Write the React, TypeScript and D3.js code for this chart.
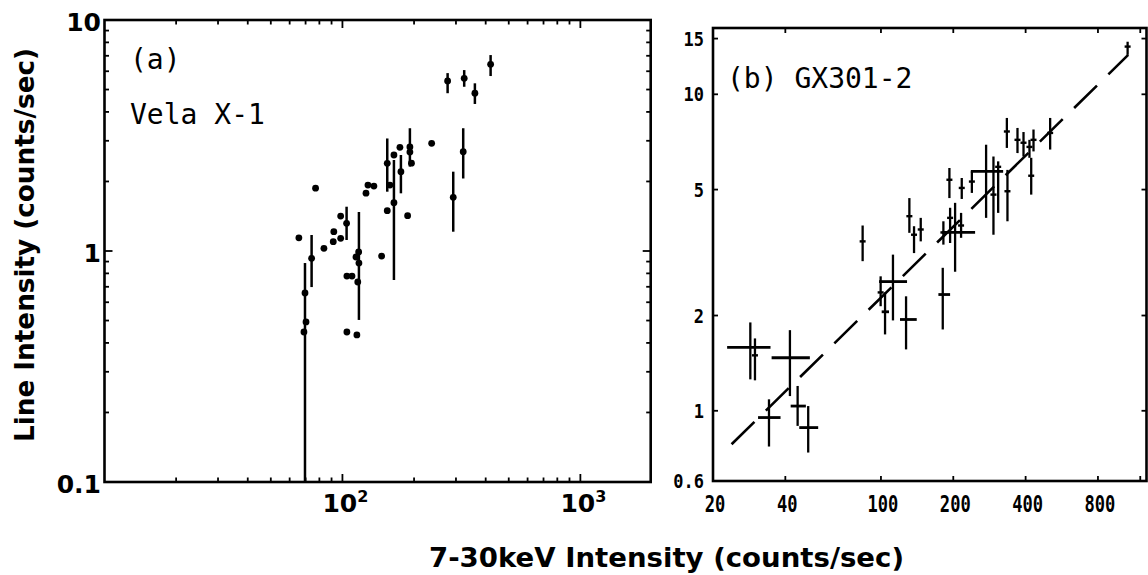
import React from 'react';
import * as d3 from 'd3';

// ---------- Panel (a): Vela X-1 ----------
const velaX = [65.6, 69.6, 70.3, 68.9, 74.2, 77.1, 83.6, 91.5, 92, 98.3, 98.3, 104.1, 117.3, 114, 117, 104.4, 109.7, 116, 104.4, 115, 125.6, 128, 135.6, 146.1, 154.3, 154.3, 164.6, 158.4, 164.6, 174.4, 176.1, 187.9, 192.1, 192.1, 195, 237.1, 292.2, 321.8, 276.7, 324.9, 360.3, 419.5];
const velaY = [1.14, 0.658, 0.493, 0.446, 0.93, 1.87, 1.027, 1.097, 1.212, 1.135, 1.417, 1.318, 0.887, 0.942, 0.99, 0.779, 0.779, 0.734, 0.446, 0.433, 1.78, 1.93, 1.91, 0.951, 1.495, 2.397, 1.619, 1.93, 2.604, 2.81, 2.205, 1.422, 2.82, 2.68, 2.4, 2.926, 1.708, 2.69, 5.45, 5.59, 4.82, 6.43];
// NaN = no error bar drawn
const velaYLo = [NaN, 0.1, NaN, NaN, 0.698, NaN, NaN, NaN, NaN, NaN, NaN, 1.116, 0.503, NaN, NaN, NaN, NaN, NaN, NaN, NaN, NaN, NaN, NaN, NaN, NaN, 1.806, 0.749, NaN, NaN, NaN, 1.777, NaN, 2.32, NaN, NaN, NaN, 1.212, 2.06, 4.82, 5.14, 4.33, 5.72];
const velaYHi = [NaN, 0.887, NaN, NaN, 1.173, NaN, NaN, NaN, NaN, NaN, NaN, 1.555, 1.475, NaN, NaN, NaN, NaN, NaN, NaN, NaN, NaN, NaN, NaN, NaN, NaN, 3.07, 2.477, NaN, NaN, NaN, 2.604, NaN, 3.4, NaN, NaN, NaN, 2.205, 3.4, 5.89, 6.07, 5.32, 7.05];

const aYLabels = ['0.1', '1', '10'];
const aYLabelVals = [0.1, 1, 10];
const aXLabelVals = [100, 1000];
const aXLabelExp = ['2', '3'];

// ---------- Panel (b): GX301-2 ----------
const gxX = [28.6, 29.9, 41.8, 45.0, 49.8, 34.2, 83.9, 104, 112.2, 99.7, 127.2, 180.8, 131.3, 137.3, 146.4, 203.5, 181.9, 194, 215.5, 192.7, 216.9, 239, 273.9, 293.9, 307.5, 336.1, 334.2, 370, 392, 415, 422, 431.4, 506, 1063];
const gxY = [1.586, 1.497, 1.471, 1.035, 0.885, 0.952, 3.43, 2.055, 2.56, 2.366, 1.943, 2.33, 4.12, 3.6, 3.74, 3.66, 3.66, 4.07, 3.85, 5.37, 5.06, 5.3, 5.71, 4.82, 5.9, 4.94, 7.63, 7.18, 7.03, 6.82, 5.53, 7.18, 7.55, 14.15];
const gxXLo = [22.9, NaN, 35.07, 42.1, 45.7, 30.8, NaN, 100.7, 98.2, NaN, 120, 173.4, NaN, NaN, NaN, 179.1, NaN, NaN, NaN, NaN, NaN, NaN, 236.6, NaN, NaN, NaN, NaN, NaN, NaN, NaN, NaN, NaN, NaN, NaN];
const gxXHi = [34.7, NaN, 50.6, 48.7, 54.8, 38.2, NaN, 108, 128.4, NaN, 140.9, 194, NaN, NaN, NaN, 246.5, NaN, NaN, NaN, NaN, NaN, NaN, 322.5, NaN, NaN, NaN, NaN, NaN, NaN, NaN, NaN, NaN, NaN, NaN];
const gxYLo = [1.257, 1.248, 1.113, 0.896, 0.738, 0.771, 2.97, 1.743, 1.93, 2.14, 1.563, 1.807, 3.65, 3.15, 3.43, 2.75, 3.35, 3.39, 3.52, 4.7, 4.67, 4.88, 4.07, 3.6, 4.22, 3.97, 6.77, 6.52, 6.36, 6.3, 4.82, 6.6, 6.69, 13.33];
const gxYHi = [1.902, 1.693, 1.798, 1.198, 1.035, 1.087, 3.85, 2.366, 3.115, 2.66, 2.3, 2.83, 4.7, 3.83, 4.07, 4.54, 3.97, 4.38, 4.22, 5.85, 5.44, 5.71, 6.93, 6.36, 6.14, 5.77, 8.42, 7.83, 7.6, 7.18, 6.3, 7.74, 8.42, 14.66];

// fitted power-law (dashed line) end points
const fitX = [23.9, 1069];
const fitY = [0.784, 13.32];

const bXTickVals = [40, 100, 200, 400, 800, 1200];
const bXLabels = ['20', '40', '100', '200', '400', '800'];
const bXLabelVals = [20, 40, 100, 200, 400, 800];
const bYTickVals = [1, 2, 5, 10, 15];
const bYLabels = ['0.6', '1', '2', '5', '10', '15'];
const bYLabelVals = [0.6, 1, 2, 5, 10, 15];

const INK = '#000';
const SANS = '"DejaVu Sans", Verdana, sans-serif';
const MONO = '"DejaVu Sans Mono", "Liberation Mono", monospace';

export default function App() {
  // panel (a) scales
  const ax = d3.scaleLog().domain([10, 2000]).range([104.5, 652]);
  const ay = d3.scaleLog().domain([0.1, 10]).range([482, 20]);
  // panel (b) scales
  const bx = d3.scaleLog().domain([20, 1280]).range([713, 1147]);
  const by = d3.scaleLog().domain([0.6, 16.2]).range([481, 28]);

  const [aL, aR] = [ax(10), 650.7];
  const [aT, aB] = [ay(10), ay(0.1)];
  const [bL, bR] = [bx(20), 1146.5];
  const [bT, bB] = [by(16.2), by(0.6)];

  // minor/major log ticks for panel (a)
  const aXT: { v: number; major: boolean }[] = [];
  [10, 100, 1000].forEach((k) => {
    for (let d = 1; d <= 9; d++) {
      const v = d * k;
      if (v > 10 && v < 2000) aXT.push({ v, major: d === 1 });
    }
  });
  const aYT: { v: number; major: boolean }[] = [];
  [0.1, 1].forEach((k) => {
    for (let d = 1; d <= 9; d++) {
      const v = d * k;
      if (v > 0.1) aYT.push({ v, major: d === 1 });
    }
  });

  const fitLine = d3
    .line<number>()
    .x((_, i) => bx(fitX[i]))
    .y((_, i) => by(fitY[i]));

  return (
    <svg
      width={1148}
      height={575}
      style={{ position: 'absolute', left: 0, top: 0, background: '#fff' }}
    >
      <rect x={0} y={0} width={1148} height={575} fill="#fff" />

      {/* ===== Panel (a) ===== */}
      <rect x={aL} y={aT} width={aR - aL} height={aB - aT} fill="none" stroke={INK} strokeWidth={2.6} />
      {aXT.map((t, i) => {
        const x = ax(t.v);
        const len = t.major ? 8 : 4.5;
        return (
          <g key={'axt' + i} stroke={INK} strokeWidth={1.8}>
            <line x1={x} x2={x} y1={aB} y2={aB - len} />
            <line x1={x} x2={x} y1={aT} y2={aT + len} />
          </g>
        );
      })}
      {aYT.map((t, i) => {
        const y = ay(t.v);
        const len = t.major ? 8 : 4.5;
        return (
          <g key={'ayt' + i} stroke={INK} strokeWidth={1.8}>
            <line x1={aL} x2={aL + len} y1={y} y2={y} />
            <line x1={aR} x2={aR - len} y1={y} y2={y} />
          </g>
        );
      })}
      {aYLabels.map((s, i) => (
        <text
          key={'ayl' + i}
          x={101}
          y={ay(aYLabelVals[i]) + 11}
          textAnchor="end"
          fontFamily={SANS}
          fontWeight="bold"
          fontSize={25}
          fill={INK}
        >
          {s}
        </text>
      ))}
      {aXLabelVals.map((v, i) => (
        <text
          key={'axl' + i}
          x={ax(v) + 3}
          y={512}
          textAnchor="middle"
          fontFamily={SANS}
          fontWeight="bold"
          fontSize={25}
          fill={INK}
        >
          10
          <tspan fontSize={16} dy={-10}>
            {aXLabelExp[i]}
          </tspan>
        </text>
      ))}

      {/* error bars (a) */}
      {velaX.map((x, i) =>
        isNaN(velaYLo[i]) ? null : (
          <line
            key={'aeb' + i}
            x1={ax(x)}
            x2={ax(x)}
            y1={ay(Math.max(velaYLo[i], 0.1))}
            y2={ay(velaYHi[i])}
            stroke={INK}
            strokeWidth={2.5}
          />
        )
      )}
      {velaX.map((x, i) => (
        <circle key={'apt' + i} cx={ax(x)} cy={ay(velaY[i])} r={3.4} fill={INK} />
      ))}

      <text x={130} y={69} fontFamily={MONO} fontSize={28} fill={INK}>
        (a)
      </text>
      <text x={130} y={124} fontFamily={MONO} fontSize={28} fill={INK}>
        Vela X-1
      </text>

      {/* ===== Panel (b) ===== */}
      <rect x={bL} y={bT} width={bR - bL} height={bB - bT} fill="none" stroke={INK} strokeWidth={2.6} />
      {bXTickVals.map((v, i) => {
        const x = bx(v);
        return (
          <g key={'bxt' + i} stroke={INK} strokeWidth={1.8}>
            <line x1={x} x2={x} y1={bB} y2={bB - 5} />
            <line x1={x} x2={x} y1={bT} y2={bT + 5} />
          </g>
        );
      })}
      {bYTickVals.map((v, i) => {
        const y = by(v);
        return (
          <g key={'byt' + i} stroke={INK} strokeWidth={1.8}>
            <line x1={bL} x2={bL + 5} y1={y} y2={y} />
            <line x1={bR} x2={bR - 5} y1={y} y2={y} />
          </g>
        );
      })}
      {bXLabels.map((s, i) => (
        <g key={'bxl' + i} transform={`translate(${bx(bXLabelVals[i]) + 2},512) scale(0.95,1.25)`}>
          <text textAnchor="middle" fontFamily={MONO} fontWeight="bold" fontSize={18} fill={INK}>
            {s}
          </text>
        </g>
      ))}
      {bYLabels.map((s, i) => (
        <g key={'byl' + i} transform={`translate(704,${by(bYLabelVals[i]) + 7}) scale(1,1.15)`}>
          <text textAnchor="end" fontFamily={MONO} fontWeight="bold" fontSize={17} fill={INK}>
            {s}
          </text>
        </g>
      ))}

      {/* dashed fit line */}
      <path
        d={fitLine(fitX) || ''}
        fill="none"
        stroke={INK}
        strokeWidth={2.6}
        strokeDasharray="32 16"
      />

      {/* error crosses (b) */}
      {gxX.map((x, i) => {
        const cx = bx(x);
        const cy = by(gxY[i]);
        const hasX = !isNaN(gxXLo[i]);
        return (
          <g key={'bpt' + i} stroke={INK}>
            <line x1={cx} x2={cx} y1={by(gxYLo[i])} y2={by(gxYHi[i])} strokeWidth={2.3} />
            {hasX ? (
              <line x1={bx(gxXLo[i])} x2={bx(gxXHi[i])} y1={cy} y2={cy} strokeWidth={2.8} />
            ) : (
              <line x1={cx - 3} x2={cx + 3} y1={cy} y2={cy} strokeWidth={2.4} />
            )}
          </g>
        );
      })}

      <text x={727} y={88} fontFamily={MONO} fontSize={28} fill={INK}>
        (b) GX301-2
      </text>

      {/* ===== Axis titles ===== */}
      <text
        transform="translate(34,442) rotate(-90)"
        textLength={394}
        lengthAdjust="spacingAndGlyphs"
        fontFamily={SANS}
        fontWeight="bold"
        fontSize={26}
        fill={INK}
      >
        Line Intensity (counts/sec)
      </text>
      <text
        x={429}
        y={567}
        textLength={475}
        lengthAdjust="spacingAndGlyphs"
        fontFamily={SANS}
        fontWeight="bold"
        fontSize={27}
        fill={INK}
      >
        7-30keV Intensity (counts/sec)
      </text>
    </svg>
  );
}
